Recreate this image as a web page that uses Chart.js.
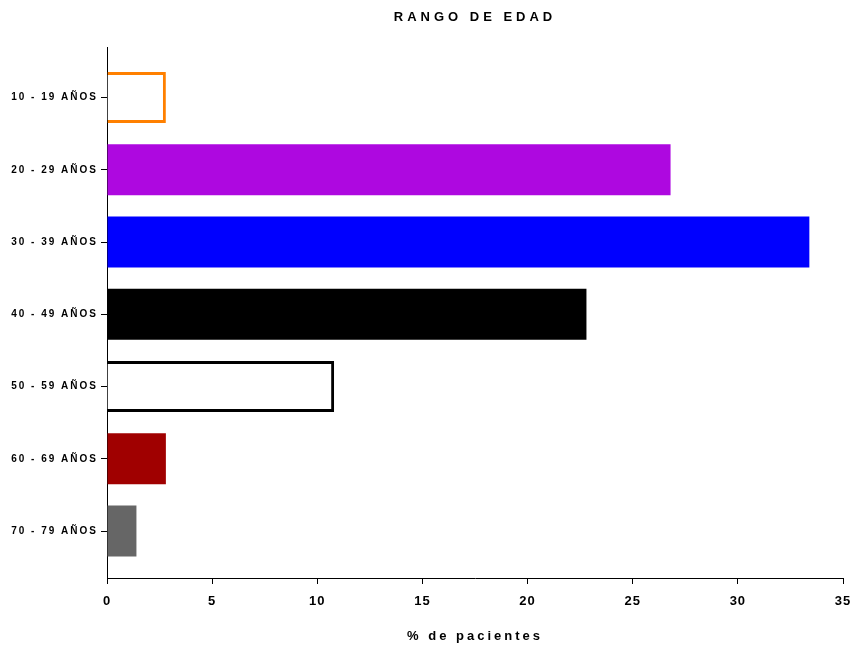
<!DOCTYPE html>
<html lang="es">
<head>
<meta charset="utf-8">
<title>Rango de edad</title>
<script src="https://cdn.jsdelivr.net/npm/chart.js@4.4.1/dist/chart.umd.min.js"></script>
<style>
  html, body { margin: 0; padding: 0; background: #ffffff; }
  #wrap { width: 855px; height: 650px; }
</style>
</head>
<body>
<div id="wrap"><canvas id="chart" width="855" height="650"></canvas></div>
<script>
// Age ranges, top to bottom
const categories = ['10 - 19 AÑOS', '20 - 29 AÑOS', '30 - 39 AÑOS', '40 - 49 AÑOS', '50 - 59 AÑOS', '60 - 69 AÑOS', '70 - 79 AÑOS'];
// Share of patients in each range (%)
const percentages = [2.8, 26.8, 33.4, 22.8, 10.8, 2.8, 1.4];
// Value axis ticks
const xTicks = [0, 5, 10, 15, 20, 25, 30, 35];

// Bar styling per range
const fillColors   = ['#ffffff', '#ae08e0', '#0000ff', '#000000', '#ffffff', '#a00000', '#666666'];
const strokeColors = ['#ff8000', '#ae08e0', '#0000ff', '#000000', '#000000', '#a00000', '#666666'];
const strokeWidths = [3, 0, 0, 0, 3, 0, 0];

const FONT = "'Liberation Sans', Arial, Helvetica, sans-serif";

// Canvas letter spacing for each text group
const spacing = { title: '4px', xLabels: '1px', yLabels: '2px', xTitle: '3px' };

const letterSpacingPlugin = {
  id: 'letterSpacing',
  afterLayout(chart) {
    const wrap = (obj, method, ls) => {
      if (!obj || obj['__ls_' + method]) return;
      const orig = obj[method];
      obj[method] = function (...args) {
        const ctx = chart.ctx;
        ctx.save();
        ctx.letterSpacing = ls;
        orig.apply(this, args);
        ctx.restore();
      };
      obj['__ls_' + method] = true;
    };
    wrap(chart.titleBlock, 'draw', spacing.title);
    wrap(chart.scales.x, 'drawLabels', spacing.xLabels);
    wrap(chart.scales.x, 'drawTitle', spacing.xTitle);
    wrap(chart.scales.y, 'drawLabels', spacing.yLabels);
  }
};

new Chart(document.getElementById('chart'), {
  type: 'bar',
  data: {
    datasets: [{
      data: percentages.map((v, i) => ({ x: v, y: i })),
      backgroundColor: fillColors,
      borderColor: strokeColors,
      borderWidth: strokeWidths,
      borderSkipped: 'start',
      barPercentage: 0.707,
      categoryPercentage: 1
    }]
  },
  options: {
    indexAxis: 'y',
    responsive: false,
    animation: false,
    layout: { padding: { left: 0, right: 12, top: 0, bottom: 0 } },
    plugins: {
      legend: { display: false },
      tooltip: { enabled: false },
      title: {
        display: true,
        text: 'RANGO DE EDAD',
        fullSize: false,
        color: '#000000',
        font: { family: FONT, size: 13, weight: 'bold' },
        padding: { top: 10, bottom: 21.4 }
      }
    },
    scales: {
      x: {
        type: 'linear',
        position: 'bottom',
        min: xTicks[0],
        max: xTicks[xTicks.length - 1],
        afterBuildTicks: (scale) => { scale.ticks = xTicks.map(v => ({ value: v })); },
        afterFit: (scale) => {
          scale.paddingLeft = 0;
          scale.paddingRight = 0;
          scale.height = 72;
        },
        grid: { drawOnChartArea: false, drawTicks: true, tickLength: 6, color: '#000000', lineWidth: 1 },
        border: { display: true, color: '#000000', width: 1 },
        ticks: {
          color: '#000000',
          padding: 10,
          font: { family: FONT, size: 13, weight: 'bold' },
          maxRotation: 0
        },
        title: {
          display: true,
          text: '% de pacientes',
          color: '#000000',
          font: { family: FONT, size: 13, weight: 'bold' },
          padding: { top: 18.8, bottom: 6 }
        }
      },
      y: {
        type: 'linear',
        position: 'left',
        reverse: true,
        offset: false,
        min: -0.7,
        max: 6.65,
        afterBuildTicks: (scale) => { scale.ticks = categories.map((_, i) => ({ value: i })); },
        afterFit: (scale) => {
          scale.width = 107;
          scale.paddingTop = 0;
          scale.paddingBottom = 0;
        },
        grid: { offset: false, drawOnChartArea: false, drawTicks: true, tickLength: 6, color: '#000000', lineWidth: 1 },
        border: { display: true, color: '#000000', width: 1 },
        ticks: {
          color: '#000000',
          padding: 3,
          autoSkip: false,
          font: { family: FONT, size: 10, weight: 'bold' },
          callback: (value) => categories[value] ?? ''
        }
      }
    }
  },
  plugins: [letterSpacingPlugin]
});
</script>
</body>
</html>
